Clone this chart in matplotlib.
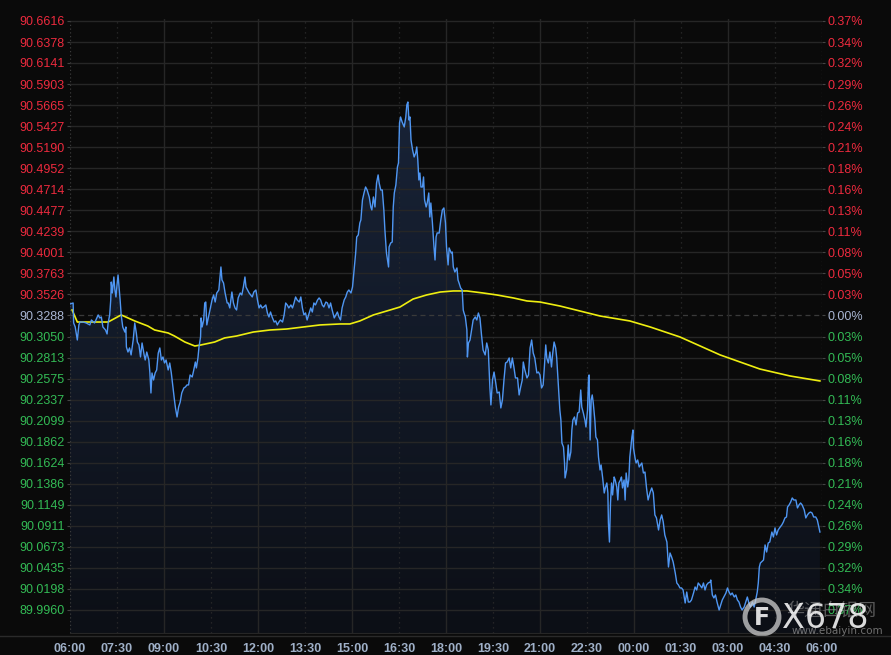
import matplotlib
matplotlib.use('Agg')
import matplotlib.pyplot as plt
import numpy as np
from matplotlib.patches import Circle

# ---- data (minutes after 06:00, price) ----
base_price = 90.3288

price_minutes = [
    0, 6, 7, 10, 14, 17, 19, 25, 31, 38, 41, 47, 54, 57, 60, 63, 68, 71, 73, 76,
    78, 79, 81, 84, 86, 88, 90, 92, 94, 96, 98, 101, 105, 107, 108, 111, 114, 117, 121, 124,
    127, 129, 132, 135, 138, 142, 144, 147, 151, 153, 155, 157, 160, 163, 166, 169, 172, 175, 178, 181,
    184, 188, 191, 194, 197, 200, 202, 205, 208, 211, 214, 218, 221, 224, 227, 230, 234, 237, 240, 242,
    245, 247, 250, 251, 253, 256, 258, 260, 262, 266, 269, 272, 275, 278, 281, 285, 287, 289, 291, 294,
    297, 301, 303, 306, 310, 313, 316, 319, 322, 326, 329, 332, 335, 337, 340, 343, 346, 349, 352, 356,
    359, 362, 365, 368, 371, 375, 378, 381, 384, 387, 391, 394, 397, 400, 403, 407, 410, 413, 416, 419,
    423, 426, 429, 432, 435, 439, 442, 445, 448, 451, 454, 458, 461, 464, 467, 470, 474, 477, 480, 483,
    486, 490, 493, 496, 499, 502, 506, 509, 512, 515, 518, 521, 525, 528, 531, 534, 538, 541, 544, 547,
    549, 552, 555, 557, 560, 563, 566, 569, 573, 576, 578, 581, 584, 587, 590, 592, 595, 598, 601, 603,
    606, 610, 611, 614, 617, 619, 621, 624, 627, 629, 631, 633, 636, 640, 643, 645, 647, 649, 651, 653,
    656, 659, 662, 664, 666, 668, 670, 672, 675, 677, 679, 682, 684, 687, 689, 691, 694, 697, 699, 701,
    703, 707, 710, 713, 716, 719, 721, 724, 726, 730, 732, 734, 737, 741, 743, 745, 748, 751, 753, 754,
    757, 760, 761, 763, 766, 769, 772, 776, 779, 782, 785, 788, 791, 795, 798, 801, 804, 806, 809, 812,
    815, 818, 822, 825, 828, 831, 834, 837, 841, 844, 847, 850, 853, 857, 860, 863, 866, 868, 871, 875,
    878, 881, 884, 887, 890, 894, 897, 900, 903, 906, 908, 911, 913, 916, 919, 922, 924, 927, 930, 932,
    934, 936, 938, 940, 942, 945, 947, 948, 951, 954, 956, 959, 961, 963, 966, 969, 972, 975, 978, 980,
    983, 986, 988, 991, 993, 994, 996, 998, 1000, 1002, 1005, 1007, 1010, 1012, 1015, 1017, 1020, 1023, 1025, 1028,
    1030, 1031, 1033, 1035, 1037, 1039, 1042, 1044, 1047, 1049, 1051, 1054, 1056, 1058, 1061, 1063, 1065, 1068, 1070, 1072,
    1074, 1076, 1078, 1079, 1082, 1084, 1087, 1090, 1095, 1098, 1101, 1104, 1107, 1111, 1114, 1117, 1120, 1123, 1127, 1130,
    1133, 1136, 1139, 1143, 1146, 1149, 1152, 1155, 1159, 1162, 1165, 1168, 1171, 1174, 1178, 1181, 1184, 1187, 1190, 1194,
    1197, 1200, 1203, 1206, 1210, 1213, 1216, 1219, 1222, 1226, 1227, 1230, 1233, 1236, 1239, 1243, 1246, 1249, 1252, 1256,
    1259, 1262, 1265, 1268, 1272, 1275, 1278, 1281, 1284, 1287, 1291, 1294, 1297, 1300, 1303, 1307, 1310, 1313, 1316, 1318,
    1320, 1322, 1324, 1328, 1331, 1334, 1337, 1340, 1344, 1347, 1350, 1353, 1356, 1360, 1363, 1366, 1369, 1372, 1374, 1377,
    1380, 1383, 1386, 1390, 1393, 1396, 1399, 1402, 1406, 1409, 1412, 1415, 1418, 1421, 1424, 1428, 1431, 1434, 1436,
]

prices = [
    90.3418, 90.3429, 90.3203, 90.3158, 90.3011, 90.3181, 90.3214, 90.3214, 90.3203, 90.3181,
    90.3237, 90.3203, 90.3294, 90.3260, 90.3271, 90.3158, 90.3124, 90.3079, 90.3203, 90.3294,
    90.3463, 90.3666, 90.3542, 90.3723, 90.3576, 90.3497, 90.3633, 90.3746, 90.3610, 90.3463,
    90.3294, 90.3158, 90.3101, 90.3158, 90.2932, 90.2875, 90.2921, 90.2842, 90.3011, 90.3203,
    90.3090, 90.2988, 90.2955, 90.2819, 90.2977, 90.2842, 90.2785, 90.2875, 90.2785, 90.2638,
    90.2412, 90.2638, 90.2559, 90.2638, 90.2672, 90.2864, 90.2921, 90.2785, 90.2819, 90.2751,
    90.2785, 90.2672, 90.2751, 90.2638, 90.2480, 90.2333, 90.2243, 90.2141, 90.2254, 90.2310,
    90.2412, 90.2469, 90.2480, 90.2503, 90.2503, 90.2616, 90.2593, 90.2672, 90.2762, 90.2695,
    90.2808, 90.2932, 90.3045, 90.3260, 90.3158, 90.3237, 90.3429, 90.3440, 90.3181, 90.3294,
    90.3384, 90.3463, 90.3520, 90.3440, 90.3542, 90.3576, 90.3712, 90.3836, 90.3689, 90.3655,
    90.3542, 90.3429, 90.3429, 90.3373, 90.3553, 90.3429, 90.3373, 90.3350, 90.3486, 90.3542,
    90.3520, 90.3610, 90.3723, 90.3610, 90.3576, 90.3542, 90.3520, 90.3497, 90.3553, 90.3576,
    90.3463, 90.3373, 90.3407, 90.3373, 90.3384, 90.3407, 90.3316, 90.3271, 90.3327, 90.3271,
    90.3214, 90.3226, 90.3181, 90.3214, 90.3237, 90.3214, 90.3294, 90.3429, 90.3407, 90.3373,
    90.3407, 90.3373, 90.3429, 90.3497, 90.3463, 90.3440, 90.3497, 90.3373, 90.3294, 90.3316,
    90.3237, 90.3316, 90.3373, 90.3327, 90.3429, 90.3407, 90.3463, 90.3486, 90.3463, 90.3407,
    90.3384, 90.3440, 90.3429, 90.3373, 90.3429, 90.3350, 90.3260, 90.3294, 90.3327, 90.3271,
    90.3237, 90.3373, 90.3463, 90.3497, 90.3553, 90.3576, 90.3542, 90.3610, 90.3802, 90.3994,
    90.4175, 90.4198, 90.4333, 90.4367, 90.4593, 90.4672, 90.4740, 90.4706, 90.4627, 90.4514,
    90.4480, 90.4627, 90.4514, 90.4785, 90.4876, 90.4785, 90.4706, 90.4706, 90.4480, 90.4254,
    90.3994, 90.3836, 90.4062, 90.4107, 90.4118, 90.4514, 90.4672, 90.4763, 90.4966, 90.5011,
    90.5463, 90.5531, 90.5474, 90.5418, 90.5531, 90.5667, 90.5700, 90.5497, 90.5531, 90.5271,
    90.5158, 90.5079, 90.5124, 90.5192, 90.5045, 90.4819, 90.4898, 90.4740, 90.4740, 90.4853,
    90.4593, 90.4514, 90.4559, 90.4672, 90.4401, 90.4559, 90.4333, 90.4062, 90.3915, 90.4175,
    90.4220, 90.4220, 90.4367, 90.4480, 90.4503, 90.4333, 90.4062, 90.3859, 90.4051, 90.3994,
    90.4005, 90.3836, 90.3779, 90.3825, 90.3689, 90.3655, 90.3599, 90.3576, 90.3350, 90.3327,
    90.3271, 90.3124, 90.2819, 90.2977, 90.3011, 90.3124, 90.3237, 90.3271, 90.3237, 90.3316,
    90.3260, 90.3068, 90.2898, 90.2842, 90.2977, 90.2898, 90.2480, 90.2277, 90.2559, 90.2649,
    90.2536, 90.2412, 90.2423, 90.2243, 90.2333, 90.2559, 90.2751, 90.2762, 90.2808, 90.2695,
    90.2808, 90.2706, 90.2582, 90.2582, 90.2390, 90.2480, 90.2559, 90.2762, 90.2672, 90.2582,
    90.2616, 90.2921, 90.3011, 90.2864, 90.2808, 90.2638, 90.2649, 90.2616, 90.2469, 90.2503,
    90.2672, 90.2955, 90.2808, 90.2751, 90.2875, 90.2706, 90.2842, 90.2988, 90.2921, 90.2808,
    90.2616, 90.2423, 90.2220, 90.2107, 90.1847, 90.1802, 90.1621, 90.1452, 90.1542, 90.1825,
    90.1655, 90.1745, 90.1994, 90.2107, 90.2141, 90.2051, 90.2186, 90.2197, 90.2446, 90.2254,
    90.2186, 90.2107, 90.2028, 90.2220, 90.2593, 90.2616, 90.1881, 90.2333, 90.2390, 90.2299,
    90.2107, 90.1915, 90.1881, 90.1689, 90.1542, 90.1599, 90.1452, 90.1282, 90.1339, 90.1395,
    90.1282, 90.0943, 90.0728, 90.1169, 90.1395, 90.1260, 90.1463, 90.1429, 90.1350, 90.1203,
    90.1395, 90.1429, 90.1463, 90.1339, 90.1429, 90.1203, 90.1508, 90.1350, 90.1429, 90.1689,
    90.1802, 90.1915, 90.1994, 90.1791, 90.1678, 90.1621, 90.1655, 90.1576, 90.1621, 90.1508,
    90.1519, 90.1339, 90.1203, 90.1293, 90.1339, 90.1282, 90.1034, 90.1000, 90.0864, 90.0977,
    90.1034, 90.0954, 90.0808, 90.0728, 90.0446, 90.0604, 90.0559, 90.0502, 90.0378, 90.0265,
    90.0243, 90.0209, 90.0209, 90.0186, 90.0039, 90.0163, 90.0050, 90.0050, 90.0073, 90.0152,
    90.0220, 90.0186, 90.0265, 90.0243, 90.0209, 90.0265, 90.0186, 90.0243, 90.0265, 90.0276,
    90.0299, 90.0130, 90.0096, 90.0130, 90.0050, 89.9960, 90.0017, 90.0073, 90.0107, 90.0152,
    90.0209, 90.0163, 90.0130, 90.0152, 90.0107, 90.0130, 90.0073, 90.0050, 89.9994, 89.9960,
    89.9994, 90.0050, 90.0107, 90.0039, 89.9994, 90.0050, 89.9994, 90.0073, 90.0163, 90.0265,
    90.0446, 90.0491, 90.0502, 90.0525, 90.0695, 90.0615, 90.0717, 90.0728, 90.0841, 90.0785,
    90.0887, 90.0808, 90.0864, 90.0898, 90.0921, 90.0954, 90.1000, 90.1011, 90.1124, 90.1147,
    90.1180, 90.1226, 90.1203, 90.1203, 90.1113, 90.1147, 90.1169, 90.1147, 90.1090, 90.1000,
    90.1034, 90.1056, 90.1067, 90.1056, 90.1011, 90.1011, 90.0977, 90.0898, 90.0841,
]

avg_minutes = [4, 14, 73, 98, 124, 149, 162, 188, 200, 220, 239, 251, 277, 296, 319, 351, 383, 415,
               447, 479, 517, 536, 555, 581, 613, 632, 657, 683, 709, 734, 760, 791, 817, 849,
               875, 900, 938, 1015, 1072, 1111, 1168, 1245, 1321, 1379, 1436]
avg_prices = [90.3350, 90.3214, 90.3214, 90.3294, 90.3226, 90.3169, 90.3124, 90.3090, 90.3056,
              90.2988, 90.2943, 90.2955, 90.2988, 90.3034, 90.3056, 90.3101, 90.3124, 90.3135,
              90.3158, 90.3181, 90.3192, 90.3192, 90.3226, 90.3294, 90.3350, 90.3384, 90.3474,
              90.3520, 90.3553, 90.3565, 90.3565, 90.3542, 90.3520, 90.3486, 90.3452, 90.3440,
              90.3395, 90.3282, 90.3226, 90.3158, 90.3045, 90.2842, 90.2683, 90.2604, 90.2548]

price_labels = ['90.6616', '90.6378', '90.6141', '90.5903', '90.5665', '90.5427', '90.5190',
                '90.4952', '90.4714', '90.4477', '90.4239', '90.4001', '90.3763', '90.3526',
                '90.3288', '90.3050', '90.2813', '90.2575', '90.2337', '90.2099', '90.1862',
                '90.1624', '90.1386', '90.1149', '90.0911', '90.0673', '90.0435', '90.0198',
                '89.9960']
pct_labels = ['0.37%', '0.34%', '0.32%', '0.29%', '0.26%', '0.24%', '0.21%', '0.18%', '0.16%',
              '0.13%', '0.11%', '0.08%', '0.05%', '0.03%', '0.00%', '0.03%', '0.05%', '0.08%',
              '0.11%', '0.13%', '0.16%', '0.18%', '0.21%', '0.24%', '0.26%', '0.29%', '0.32%',
              '0.34%', '0.37%']
time_labels = ['06:00', '07:30', '09:00', '10:30', '12:00', '13:30', '15:00', '16:30', '18:00',
               '19:30', '21:00', '22:30', '00:00', '01:30', '03:00', '04:30', '06:00']

# ---- style ----
BG = '#0a0a0a'
RED = '#ee2a3e'
GREEN = '#33bb55'
NEUTRAL = '#a9b6d3'
GRID = '#262626'
FONT = 'Liberation Sans'

y_lo, y_hi = 89.9700, 90.6638
tick_vals = [float(s) for s in price_labels]
x_ticks = [90 * i for i in range(len(time_labels))]

fig = plt.figure(figsize=(8.91, 6.55), dpi=100, facecolor=BG)
ax = fig.add_axes([70 / 891, 22 / 655, 752 / 891, 614 / 655])
ax.set_facecolor(BG)
ax.set_xlim(0, 1440)
ax.set_ylim(y_lo, y_hi)

# gradient fill under the price line
fill = ax.fill_between(price_minutes, prices, y_lo, facecolor='none', edgecolor='none')
top_c = np.array([26, 38, 60]) / 255
bot_c = np.array([12, 15, 22]) / 255
ramp = np.linspace(0, 1, 256)[:, None]
grad = np.zeros((256, 1, 4))
grad[:, 0, :3] = bot_c + (top_c - bot_c) * ramp
grad[:, 0, 3] = 1
im = ax.imshow(grad, extent=[0, 1440, y_lo, y_hi], origin='lower', aspect='auto', zorder=1)
im.set_clip_path(fill.get_paths()[0], transform=ax.transData)

# grid
for v in tick_vals:
    if abs(v - base_price) < 1e-6:
        ax.axhline(v, color='#3a3a3a', lw=0.9, ls=(0, (4, 3)), zorder=2)
    else:
        ax.axhline(v, color=GRID, lw=1.0, zorder=2)
for i, xt in enumerate(x_ticks[1:-1], start=1):
    if i % 2 == 0:
        ax.axvline(xt, color=GRID, lw=1.0, zorder=2)
    else:
        ax.axvline(xt, color='#2c2c2c', lw=0.9, ls=(0, (1, 3)), zorder=2)

ax.plot(price_minutes, prices, color='#4f96f2', lw=1.0, zorder=4)
ax.plot(avg_minutes, avg_prices, color='#eeee10', lw=1.2, zorder=3)

# axes decoration
for side in ['top', 'right', 'left']:
    ax.spines[side].set_visible(False)
ax.spines['bottom'].set_color(GRID)
ax.axvline(0, color='#3a3a3a', lw=0.9, ls=(0, (1, 2)), zorder=2)
ax.axvline(1440, color='#3a3a3a', lw=0.9, ls=(0, (1, 2)), zorder=2)

ax.set_yticks(tick_vals)
ax.set_yticklabels(price_labels, fontsize=9, family=FONT)
ax.tick_params(axis='y', length=2, color='#444444', pad=2)
ax.set_xticks(x_ticks)
ax.set_xticklabels(time_labels, fontsize=9, family=FONT, fontweight='bold', color='#9fb0c8')
ax.tick_params(axis='x', length=0, pad=7)

ax2 = ax.twinx()
ax2.set_ylim(y_lo, y_hi)
ax2.set_yticks(tick_vals)
ax2.set_yticklabels(pct_labels, fontsize=9, family=FONT)
ax2.tick_params(axis='y', length=2, color='#444444', pad=2)
for s in ax2.spines.values():
    s.set_visible(False)

for lab_l, lab_r, v in zip(ax.get_yticklabels(), ax2.get_yticklabels(), tick_vals):
    if v > base_price + 1e-6:
        c = RED
    elif v < base_price - 1e-6:
        c = GREEN
    else:
        c = NEUTRAL
    lab_l.set_color(c)
    lab_r.set_color(c)

# overlay in pixel coordinates for separator and watermark
ov = fig.add_axes([0, 0, 1, 1], zorder=10)
ov.set_xlim(0, 891)
ov.set_ylim(655, 0)
ov.axis('off')
ov.patch.set_alpha(0)
ov.plot([0, 891], [636, 636], color='#2a2a2a', lw=1.0)

ov.add_patch(Circle((762, 617), 17, fill=False, ec='#cfcfcf', lw=3.5, alpha=0.75))
ov.text(762, 618, 'F', ha='center', va='center', fontsize=17, color='white', alpha=0.85,
        family='DejaVu Sans', fontweight='bold')
ov.text(786, 611, '华通白银网', ha='left', va='center', fontsize=13, color='#9a9a9a', alpha=0.55,
        family=['Noto Sans CJK SC', 'DejaVu Sans'])
ov.text(782, 618, 'X678', ha='left', va='center', fontsize=24, color='white', alpha=0.85,
        family='DejaVu Sans')
ov.text(792, 631, 'www.ebaiyin.com', ha='left', va='center', fontsize=7.5, color='#9a9a9a',
        alpha=0.7, family='DejaVu Sans')

fig.savefig('out.png', dpi=100, facecolor=BG)
